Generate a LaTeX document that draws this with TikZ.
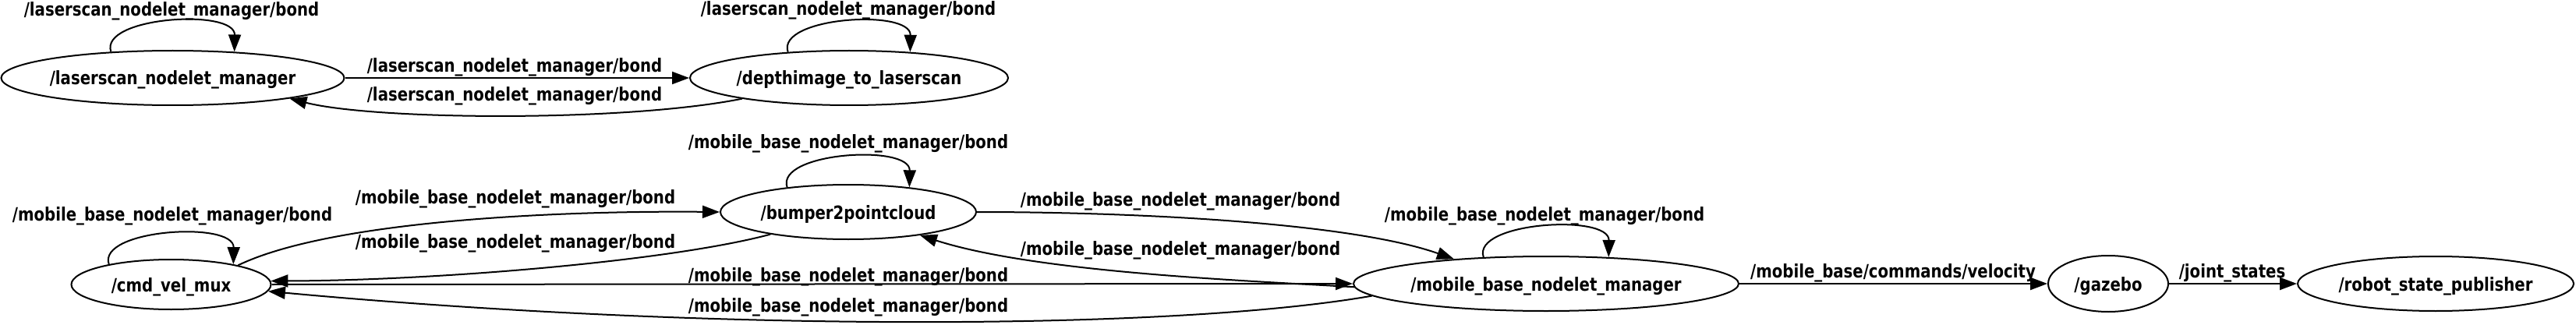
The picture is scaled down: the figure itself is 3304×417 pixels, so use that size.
\documentclass[tikz,border=0pt]{standalone}
\usepackage{fontspec}
\setmainfont{DejaVu Sans}[FakeStretch=0.835]
\usetikzlibrary{shapes.geometric,arrows.meta}
\begin{document}
\begin{tikzpicture}[x=0.5pt,y=-0.5pt,
  font=\bfseries\fontsize{11.8pt}{14pt}\selectfont,
  ros/.style={ellipse, draw, line width=1pt, inner ysep=0pt, inner xsep=-6pt, text height=9pt, text depth=0pt},
  lbl/.style={anchor=base, inner sep=0pt},
  edge/.style={line width=1pt, -{Triangle[length=11pt,width=8pt]}},
]
\useasboundingbox (0,0) rectangle (3304,417);
% nodes
\node[ros, minimum width=220pt, minimum height=35pt] (lnm) at (221.5,100) {/laserscan\_nodelet\_manager};
\node[ros, minimum width=204pt, minimum height=35pt] (dtl) at (1089,100) {/depthimage\_to\_laserscan};
\node[ros, minimum width=128pt, minimum height=32pt] (cmd) at (219.5,365) {/cmd\_vel\_mux};
\node[ros, minimum width=164pt, minimum height=35pt] (bump) at (1088,272) {/bumper2pointcloud};
\node[ros, minimum width=247pt, minimum height=35pt] (mbm) at (1983,364) {/mobile\_base\_nodelet\_manager};
\node[ros, minimum width=77pt, minimum height=36pt] (gaz) at (2704,364) {/gazebo};
\node[ros, minimum width=177pt, minimum height=35pt] (rsp) at (3124,364) {/robot\_state\_publisher};
% top row edges
\draw[edge] (lnm.157) .. controls +(-15,-45) and +(1,-56) .. (lnm.23);
\draw[edge] (dtl.157) .. controls +(-15,-45) and +(1,-56) .. (dtl.23);
\draw[edge] (lnm.east) -- (dtl.west);
\draw[edge] (dtl.191) .. controls (800,157) and (480,154) .. (lnm.350);
% bottom row edges
\draw[edge] (cmd.162) .. controls +(-15,-45) and +(1,-56) .. (cmd.18);
\draw[edge] (bump.158) .. controls +(-15,-45) and +(1,-56) .. (bump.22);
\draw[edge] (mbm.157) .. controls +(-15,-45) and +(1,-56) .. (mbm.23);
\draw[edge] (cmd.16) .. controls (420,285) and (700,270) .. (bump.180);
\draw[edge] (bump.196) .. controls (860,335) and (560,360) .. (cmd.2);
\draw[edge] (bump.east) .. controls (1450,272) and (1730,285) .. (mbm.165);
\draw[edge] (mbm.181) .. controls (1600,360) and (1330,350) .. (bump.342);
\draw[edge] (cmd.east) -- (mbm.west);
\draw[edge] (mbm.184) .. controls (1500,425) and (900,425) .. (cmd.-4);
\draw[edge] (mbm.east) -- (gaz.west);
\draw[edge] (gaz.east) -- (rsp.west);
% labels
\node[lbl] (t1) at (220,21) {/laserscan\_nodelet\_manager/bond};
\node[lbl] (t2) at (1088,20) {/laserscan\_nodelet\_manager/bond};
\node[lbl] (t3) at (660,93) {/laserscan\_nodelet\_manager/bond};
\node[lbl] (t4) at (660,130) {/laserscan\_nodelet\_manager/bond};
\node[lbl] (t5) at (221,283) {/mobile\_base\_nodelet\_manager/bond};
\node[lbl] (t6) at (1088,191) {/mobile\_base\_nodelet\_manager/bond};
\node[lbl] (t7) at (1981,283) {/mobile\_base\_nodelet\_manager/bond};
\node[lbl] (t8) at (661,261) {/mobile\_base\_nodelet\_manager/bond};
\node[lbl] (t9) at (661,318) {/mobile\_base\_nodelet\_manager/bond};
\node[lbl] (t10) at (1514,264) {/mobile\_base\_nodelet\_manager/bond};
\node[lbl] (t11) at (1514,327) {/mobile\_base\_nodelet\_manager/bond};
\node[lbl] (t12) at (1088,361) {/mobile\_base\_nodelet\_manager/bond};
\node[lbl] (t13) at (1088,400) {/mobile\_base\_nodelet\_manager/bond};
\node[lbl] (t14) at (2428,356) {/mobile\_base/commands/velocity};
\node[lbl] (t15) at (2863,356) {/joint\_states};
\end{tikzpicture}
\end{document}
